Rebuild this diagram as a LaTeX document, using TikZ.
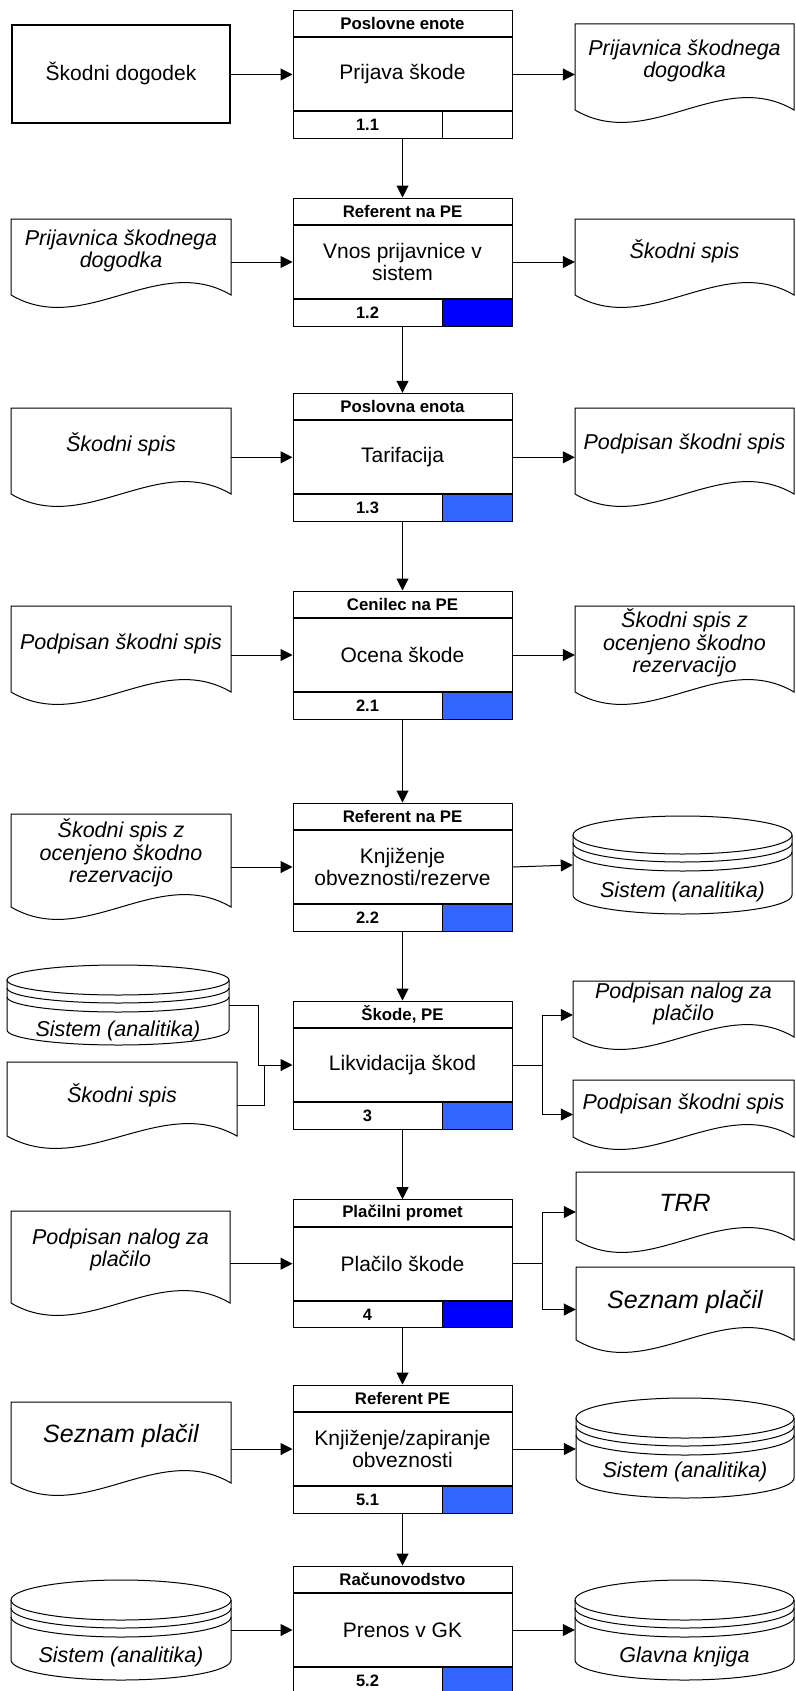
\documentclass[tikz,border=0pt]{standalone}
\usepackage{fontspec}
\setmainfont{Liberation Sans}
\usetikzlibrary{arrows.meta}
\definecolor{dblue}{RGB}{0,0,255}
\definecolor{mblue}{RGB}{51,102,255}
\newcommand\fMain{\fontsize{21}{22.5}\selectfont}
\newcommand\fDoc{\fontsize{21.5}{22.5}\selectfont\itshape}
\newcommand\fBig{\fontsize{25}{28}\selectfont\itshape}
\newcommand\fHdr{\fontsize{16.8}{18}\selectfont\bfseries}
\newcommand\fNum{\fontsize{16.5}{18}\selectfont\bfseries}
\tikzset{
  ln/.style={line width=1pt},
  arr/.style={ln,-{Triangle[length=12pt,width=12pt]}},
  pmain/.style={draw,ln,minimum width=219pt,minimum height=73pt,inner sep=0pt,align=center,font=\fMain},
  phdr/.style={draw,ln,minimum width=219pt,minimum height=26.5pt,inner sep=0pt,font=\fHdr},
  pnum/.style={draw,ln,minimum width=149pt,minimum height=26.5pt,inner sep=0pt,font=\fNum},
  pcell/.style={draw,ln,minimum width=70pt,minimum height=26.5pt,inner sep=0pt},
  area/.style={inner sep=0pt},
  txt/.style={align=center,inner sep=0pt},
  fdoc/.style={font=\fDoc},
  fbig/.style={font=\fBig},
}
% process box: name, top, header, main text, number, colour
\newcommand{\ProcBox}[6]{%
  \node[pmain] (#1) at (402.5,{#2+63}) {#4};
  \node[phdr,anchor=south] (#1h) at (#1.north) {#3};
  \node[pnum,anchor=north west] (#1n) at (#1.south west) {#5};
  \node[pcell,fill=#6,anchor=north east] (#1c) at (#1.south east) {};
}
% document: [font style] name, L, T, R, B(sides), text y, text
\newcommand{\DocS}[8][fdoc]{%
  \draw[ln] (#3,#4) -- (#5,#4) -- (#5,#6) .. controls ({(#3+2*#5)/3},{#6-43}) and ({(2*#3+#5)/3},{#6+43}) .. (#3,#6) -- cycle;
  \node[area,minimum width={#5pt-#3pt},minimum height={#6pt+12pt-#4pt}] (#2) at ({(#3+#5)/2},{(#4+#6+12)/2}) {};
  \node[txt,#1] (#2t) at ({(#3+#5)/2},#7) {#8};
}
% cylinder: name, L, T, R, B, ry, text y, text
\newcommand{\CylS}[8]{%
  \pgfmathsetmacro{\cyX}{(#2+#4)/2}%
  \pgfmathsetmacro{\cyK}{0.5523*(#4-#2)/2}%
  \pgfmathsetmacro{\cyE}{0.5523*#6}%
  \pgfmathsetmacro{\cyA}{#3+#6}%
  \pgfmathsetmacro{\cyB}{#5-#6}%
  \draw[ln] (#2,\cyA) -- (#2,\cyB) .. controls (#2,{\cyB+\cyE}) and ({\cyX-\cyK},#5) .. (\cyX,#5) .. controls ({\cyX+\cyK},#5) and (#4,{\cyB+\cyE}) .. (#4,\cyB) -- (#4,\cyA);
  \draw[ln] (#2,\cyA) .. controls (#2,{\cyA-\cyE}) and ({\cyX-\cyK},#3) .. (\cyX,#3) .. controls ({\cyX+\cyK},#3) and (#4,{\cyA-\cyE}) .. (#4,\cyA) .. controls (#4,{\cyA+\cyE}) and ({\cyX+\cyK},{\cyA+#6}) .. (\cyX,{\cyA+#6}) .. controls ({\cyX-\cyK},{\cyA+#6}) and (#2,{\cyA+\cyE}) .. (#2,\cyA) -- cycle;
  \foreach \cyO in {8,17}{\draw[ln] (#2,{\cyA+\cyO}) .. controls (#2,{\cyA+\cyO+\cyE}) and ({\cyX-\cyK},{\cyA+\cyO+#6}) .. (\cyX,{\cyA+\cyO+#6}) .. controls ({\cyX+\cyK},{\cyA+\cyO+#6}) and (#4,{\cyA+\cyO+\cyE}) .. (#4,{\cyA+\cyO});}
  \node[area,minimum width={#4pt-#2pt},minimum height={#5pt-#3pt}] (#1) at (\cyX,{(#3+#5)/2}) {};
  \node[txt,fdoc] (#1t) at (\cyX,#7) {#8};
}
\begin{document}
\begin{tikzpicture}[x=1pt,y=-1pt]
\useasboundingbox (0,0) rectangle (795,1691);
\clip (0,0) rectangle (795,1691);
\fill[white] (0,0) rectangle (795,1691);

% process boxes
\ProcBox{p1}{11.5}{Poslovne enote}{Prijava škode}{1.1}{white}
\ProcBox{p2}{199}{Referent na PE}{Vnos prijavnice v\\sistem}{1.2}{dblue}
\ProcBox{p3}{394.3}{Poslovna enota}{Tarifacija}{1.3}{mblue}
\ProcBox{p4}{592}{Cenilec na PE}{Ocena škode}{2.1}{mblue}
\ProcBox{p5}{804}{Referent na PE}{Knjiženje\\obveznosti/rezerve}{2.2}{mblue}
\ProcBox{p6}{1002}{Škode, PE}{Likvidacija škod}{3}{mblue}
\ProcBox{p7}{1200.7}{Plačilni promet}{Plačilo škode}{4}{dblue}
\ProcBox{p8}{1386}{Referent PE}{Knjiženje/zapiranje\\obveznosti}{5.1}{mblue}
\ProcBox{p9}{1567}{Računovodstvo}{Prenos v GK}{5.2}{mblue}

% row 1
\node[draw,line width=2.2pt,minimum width=218pt,minimum height=98pt,inner sep=0pt,font=\fMain] (s1) at (121,74) {Škodni dogodek};
\DocS{d1r}{575}{24}{794}{110}{61}{Prijavnica škodnega\\dogodka}
% row 2
\DocS{d2l}{11}{219}{231}{295}{251}{Prijavnica škodnega\\dogodka}
\DocS{d2r}{575}{219}{794}{295}{251}{Škodni spis}
% row 3
\DocS{d3l}{11}{408}{231}{494}{444}{Škodni spis}
\DocS{d3r}{575}{408}{794}{494}{444}{Podpisan škodni spis}
% row 4
\DocS{d4l}{11}{606}{231}{692}{644}{Podpisan škodni spis}
\DocS{d4r}{575}{606}{794}{692}{643}{Škodni spis z\\ocenjeno škodno\\rezervacijo}
% row 5
\DocS{d5l}{11}{814}{231}{907}{853}{Škodni spis z\\ocenjeno škodno\\rezervacijo}
\CylS{c5r}{573}{816}{792}{914}{19}{892}{Sistem (analitika)}
% row 6
\CylS{c6l}{7}{965}{229}{1045}{15}{1031}{Sistem (analitika)}
\DocS{d6l}{7}{1062}{237}{1136}{1095}{Škodni spis}
\DocS{d6a}{573}{981}{794}{1037}{1004}{Podpisan nalog za\\plačilo}
\DocS{d6b}{573}{1080}{794}{1137}{1104}{Podpisan škodni spis}
% row 7
\DocS{d7l}{11}{1211}{230}{1303}{1250}{Podpisan nalog za\\plačilo}
\DocS[fbig]{d7a}{576}{1172}{794}{1240}{1203}{TRR}
\DocS[fbig]{d7b}{576}{1267}{794}{1340}{1302}{Seznam plačil}
% row 8
\DocS[fbig]{d8l}{11}{1402}{231}{1483}{1436}{Seznam plačil}
\CylS{c8r}{576}{1398}{794}{1498}{20}{1472}{Sistem (analitika)}
% row 9
\CylS{c9l}{11}{1580}{231}{1680}{20}{1657}{Sistem (analitika)}
\CylS{c9r}{575}{1580}{794}{1680}{20}{1657}{Glavna knjiga}

% vertical flow
\draw[arr] (p1.south |- p1n.south) -- (p2h.north);
\draw[arr] (p2.south |- p2n.south) -- (p3h.north);
\draw[arr] (p3.south |- p3n.south) -- (p4h.north);
\draw[arr] (p4.south |- p4n.south) -- (p5h.north);
\draw[arr] (p5.south |- p5n.south) -- (p6h.north);
\draw[arr] (p6.south |- p6n.south) -- (p7h.north);
\draw[arr] (p7.south |- p7n.south) -- (p8h.north);
\draw[arr] (p8.south |- p8n.south) -- (p9h.north);

% horizontal flow
\draw[arr] (s1.east |- p1.west) -- (p1.west);
\draw[arr] (p1.east) -- (p1.east -| d1r.west);
\draw[arr] (d2l.east |- p2.west) -- (p2.west);
\draw[arr] (p2.east) -- (p2.east -| d2r.west);
\draw[arr] (d3l.east |- p3.west) -- (p3.west);
\draw[arr] (p3.east) -- (p3.east -| d3r.west);
\draw[arr] (d4l.east |- p4.west) -- (p4.west);
\draw[arr] (p4.east) -- (p4.east -| d4r.west);
\draw[arr] (d5l.east |- p5.west) -- (p5.west);
\draw[arr] (p5.east) -- (c5r.west);
\draw[arr] (c6l.east) -- ++(29,0) |- (p6.west);
\draw[ln] (d6l.east) -| ([xshift=-28pt]p6.west);
\draw[ln] (p6.east) -- ++(29.6,0) coordinate (j6);
\draw[arr] (j6) |- (d6a.west);
\draw[arr] (j6) |- (d6b.west);
\draw[arr] (d7l.east |- p7.west) -- (p7.west);
\draw[ln] (p7.east) -- ++(29.6,0) coordinate (j7);
\draw[arr] (j7) |- (d7a.west);
\draw[arr] (j7) |- (d7b.west);
\draw[arr] (d8l.east |- p8.west) -- (p8.west);
\draw[arr] (p8.east) -- (p8.east -| c8r.west);
\draw[arr] (c9l.east |- p9.west) -- (p9.west);
\draw[arr] (p9.east) -- (p9.east -| c9r.west);
\end{tikzpicture}
\end{document}
